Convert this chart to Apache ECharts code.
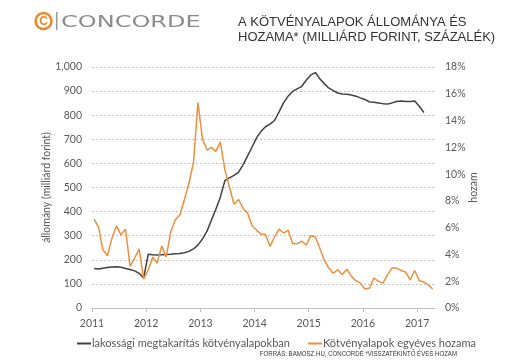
<!DOCTYPE html>
<html>
<head>
<meta charset="utf-8">
<script src="https://cdn.jsdelivr.net/npm/echarts@6/dist/echarts.min.js"></script>
<style>
html,body{margin:0;padding:0;background:#fff;}
#c{width:508px;height:360px;}
</style>
</head>
<body>
<div id="c"></div>
<script>
// ---- data ----
const startYear = 2011;
const yearLabels = ['2011', '2012', '2013', '2014', '2015', '2016', '2017'];
const leftTicks = ['0', '100', '200', '300', '400', '500', '600', '700', '800', '900', '1,000'];
const seriesNames = ['lakossági megtakarítás kötvényalapokban', 'Kötvényalapok egyéves hozama'];
// monthly, from 2011-01
const savings = [164, 162, 165, 168, 170, 171, 169, 164, 160, 154, 144, 124,
  223, 221, 220, 221, 222, 223, 225, 226, 229, 235, 245, 261,
  287, 320, 363, 410, 460, 529, 540, 550, 564, 594, 631, 668,
  707, 734, 752, 763, 778, 814, 851, 879, 899, 909, 920, 945,
  967, 977, 952, 931, 913, 902, 892, 888, 887, 884, 879, 872,
  865, 855, 854, 851, 848, 846, 851, 857, 859, 857, 857, 859,
  837, 811];
const yieldPct = [6.63, 6.03, 4.35, 3.9, 5.2, 6.13, 5.46, 5.88, 3.1, 3.72, 4.4, 2.16,
  2.86, 3.8, 3.35, 4.64, 3.8, 5.7, 6.58, 6.95, 8.1, 9.3, 10.85, 15.35,
  12.6, 11.8, 12.0, 11.7, 12.4, 10.3, 9.06, 7.75, 8.1, 7.45, 7.1, 6.15,
  5.8, 5.5, 5.5, 4.6, 5.3, 5.9, 5.6, 5.8, 4.8, 4.8, 5.0, 4.7,
  5.4, 5.3, 4.5, 3.6, 3.0, 2.6, 2.85, 2.5, 2.9, 2.36, 2.04, 1.86,
  1.42, 1.49, 2.24, 1.99, 1.86, 2.48, 2.98, 2.98, 2.8, 2.68, 2.1, 2.8,
  2.04, 1.94, 1.74, 1.42];

function monthDate(i) {
  const y = startYear + Math.floor(i / 12);
  const m = (i % 12) + 1;
  return y + '-' + (m < 10 ? '0' + m : m) + '-15';
}
const savingsData = savings.map((v, i) => [monthDate(i), v]);
const yieldData = yieldPct.map((v, i) => [monthDate(i), v]);

const gray = '#595959';
const chart = echarts.init(document.getElementById('c'), null, {renderer: 'canvas'});
const YEAR = 365 * 24 * 3600 * 1000;
chart.setOption({
  animation: false,
  backgroundColor: '#fff',
  textStyle: {fontFamily: 'Lato'},
  grid: {left: 92, right: 73, top: 67, bottom: 52, containLabel: false},
  xAxis: {
    type: 'time',
    min: '2011-01-01',
    max: '2017-05-01',
    minInterval: YEAR,
    maxInterval: YEAR + 2 * 24 * 3600 * 1000,
    axisLine: {lineStyle: {color: '#bfbfbf', width: 1}},
    axisTick: {show: true, length: 4, lineStyle: {color: '#bfbfbf'}},
    splitLine: {show: false},
    axisLabel: {
      color: gray, fontSize: 10.5, fontFamily: 'Lato', margin: 10,
      formatter: function (val) {
        const y = new Date(val).getFullYear();
        const idx = yearLabels.indexOf(String(y));
        return idx >= 0 ? yearLabels[idx] : '';
      }
    }
  },
  yAxis: [{
    type: 'value', min: 0, max: 1000, interval: 100,
    name: 'állomány (milliárd forint)', nameLocation: 'middle', nameGap: 40, nameRotate: 90,
    nameMoveOverlap: false,
    nameTextStyle: {color: gray, fontSize: 10.5, fontFamily: 'Lato'},
    axisLine: {show: false}, axisTick: {show: false},
    axisLabel: {color: gray, fontSize: 10.5, fontFamily: 'Lato', margin: 10,
      formatter: function (v) { return leftTicks[Math.round(v / 100)]; }},
    splitLine: {show: true, lineStyle: {color: '#c4c4c4', type: [2, 2], width: 1}}
  }, {
    type: 'value', min: 0, max: 18, interval: 2,
    name: 'hozam', nameLocation: 'middle', nameGap: 33, nameRotate: 90,
    nameMoveOverlap: false,
    nameTextStyle: {color: gray, fontSize: 10.5, fontFamily: 'Lato'},
    axisLine: {show: false}, axisTick: {show: false},
    axisLabel: {color: gray, fontSize: 10.5, fontFamily: 'Lato', margin: 10, formatter: '{value}%'},
    splitLine: {show: false}
  }],
  legend: {
    left: 72, top: 333, width: 436, itemGap: 18, itemWidth: 14, itemHeight: 2, icon: 'rect',
    textStyle: {color: gray, fontSize: 11, fontFamily: 'Lato', padding: [0, 0, 0, -4]},
    data: seriesNames
  },
  series: [{
    name: seriesNames[0], type: 'line', yAxisIndex: 0, data: savingsData,
    showSymbol: false, symbol: 'none', lineStyle: {color: '#404040', width: 1.5}, itemStyle: {color: '#404040'}
  }, {
    name: seriesNames[1], type: 'line', yAxisIndex: 1, data: yieldData,
    showSymbol: false, symbol: 'none', lineStyle: {color: '#ED8F3E', width: 1.5}, itemStyle: {color: '#ED8F3E'}
  }],
  graphic: [
    {type: 'circle', shape: {cx: 43.5, cy: 21, r: 8}, style: {fill: 'none', stroke: '#E98A2C', lineWidth: 2.5}},
    {type: 'text', x: 43.5, y: 21.5, style: {text: 'C', fill: '#E98A2C', font: 'bold 12px "Liberation Sans"', align: 'center', verticalAlign: 'middle'}},
    {type: 'rect', shape: {x: 56, y: 12, width: 1.5, height: 18}, style: {fill: '#9a9a9a'}},
    {type: 'text', x: 61, y: 22.5, scaleX: 1.55, style: {text: 'CONCORDE', fill: '#8c8c8c', font: '15.5px "DejaVu Sans"', align: 'left', verticalAlign: 'middle'}},
    {type: 'text', x: 238, y: 22.5, style: {text: 'A KÖTVÉNYALAPOK ÁLLOMÁNYA ÉS', fill: '#333', font: '13px "Liberation Sans"', align: 'left', verticalAlign: 'middle'}},
    {type: 'text', x: 238, y: 37.5, style: {text: 'HOZAMA* (MILLIÁRD FORINT, SZÁZALÉK)', fill: '#333', font: '13px "Liberation Sans"', align: 'left', verticalAlign: 'middle'}},
    {type: 'text', x: 457, y: 354, scaleX: 0.87, style: {text: 'FORRÁS: BAMOSZ.HU, CONCORDE *VISSZATEKINTŐ ÉVES HOZAM', fill: '#333', font: '7px "Liberation Sans"', align: 'right', verticalAlign: 'middle'}}
  ]
});
</script>
</body>
</html>
